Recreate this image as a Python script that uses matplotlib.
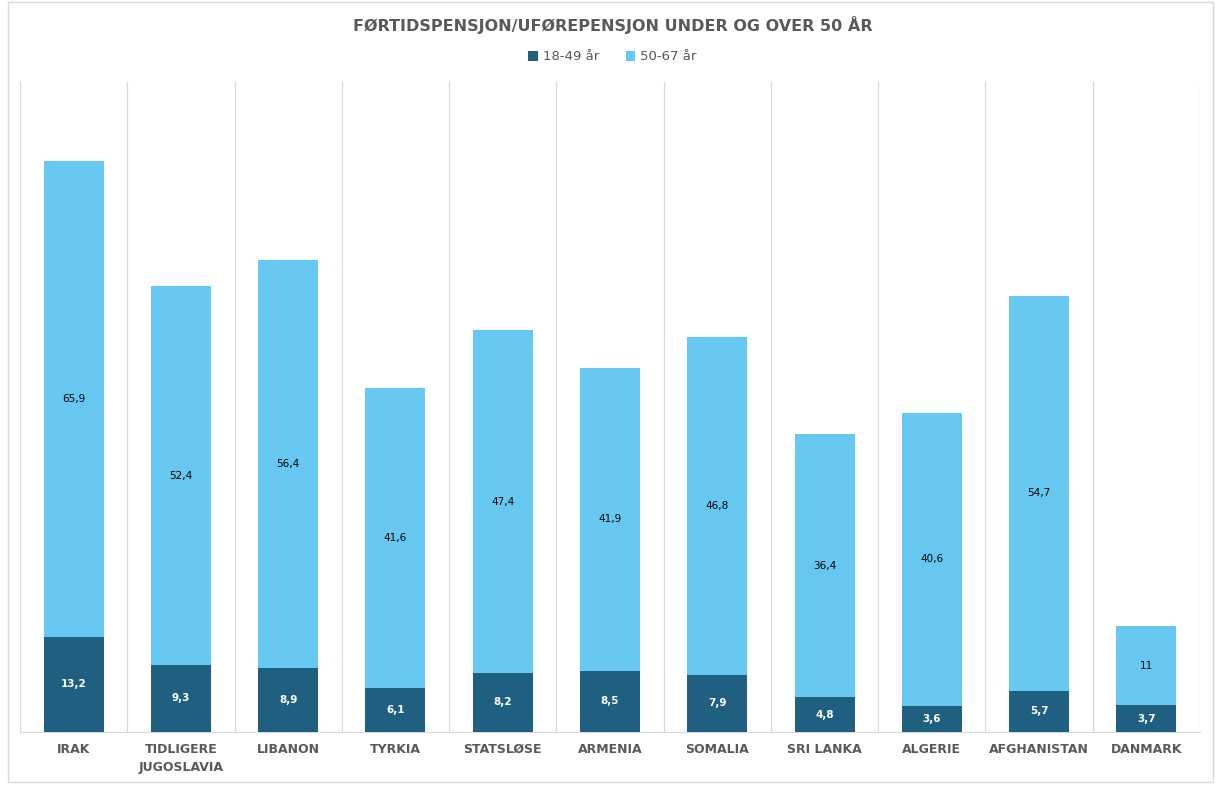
import numpy as np
import matplotlib.pyplot as plt
from matplotlib.patches import Rectangle

countries = ["IRAK", "TIDLIGERE\nJUGOSLAVIA", "LIBANON", "TYRKIA", "STATSLØSE",
             "ARMENIA", "SOMALIA", "SRI LANKA", "ALGERIE", "AFGHANISTAN", "DANMARK"]
young = [13.2, 9.3, 8.9, 6.1, 8.2, 8.5, 7.9, 4.8, 3.6, 5.7, 3.7]
old = [65.9, 52.4, 56.4, 41.6, 47.4, 41.9, 46.8, 36.4, 40.6, 54.7, 11]

dark = "#1f5f80"
light = "#66c7f0"
grey = "#595959"

def fmt(v):
    s = ("%.1f" % v).replace(".", ",")
    return s[:-2] if s.endswith(",0") else s

fig = plt.figure(figsize=(12.25, 7.91), dpi=100)
ax = fig.add_axes([20 / 1225, 1 - 732 / 791, 1180 / 1225, 650 / 791])

x = np.arange(len(countries))
b1 = ax.bar(x, young, width=0.56, color=dark, zorder=3)
b2 = ax.bar(x, old, width=0.56, bottom=young, color=light, zorder=3)

for i in x:
    ax.text(i, young[i] / 2, fmt(young[i]), ha="center", va="center",
            color="white", fontsize=7.5, fontweight="semibold", zorder=4)
    ax.text(i, young[i] + old[i] / 2, fmt(old[i]), ha="center", va="center",
            color="black", fontsize=7.5, zorder=4)

ax.set_xlim(-0.5, len(countries) - 0.5)
ax.set_ylim(0, 90)
ax.set_yticks([])
for b in np.arange(-0.5, len(countries), 1.0):
    ax.axvline(b, color="#d9d9d9", lw=0.9, zorder=1)
for s in ["top", "left", "right"]:
    ax.spines[s].set_visible(False)
ax.spines["bottom"].set_color("#d9d9d9")
ax.set_xticks(x)
ax.set_xticklabels(countries, fontsize=9, fontweight="bold", color=grey,
                   linespacing=1.5)
ax.tick_params(axis="x", length=0, pad=8)

fig.text(0.5, 1 - 25 / 791, "FØRTIDSPENSJON/UFØREPENSJON UNDER OG OVER 50 ÅR",
         ha="center", va="center", fontsize=11.5, fontweight="bold", color=grey)

leg = fig.legend([b1, b2], ["18-49 år", "50-67 år"], loc="center",
                 bbox_to_anchor=(0.5, 1 - 57 / 791), ncol=2, frameon=False,
                 fontsize=9.5, handlelength=0.7, handleheight=0.7,
                 handletextpad=0.4, columnspacing=2.0)
for t in leg.get_texts():
    t.set_color(grey)

fig.patches.append(Rectangle((8 / 1225, 1 - 782 / 791), 1205 / 1225, 780 / 791,
                             transform=fig.transFigure, fill=False,
                             edgecolor="#d9d9d9", lw=1))

fig.savefig("out.png", dpi=100)
